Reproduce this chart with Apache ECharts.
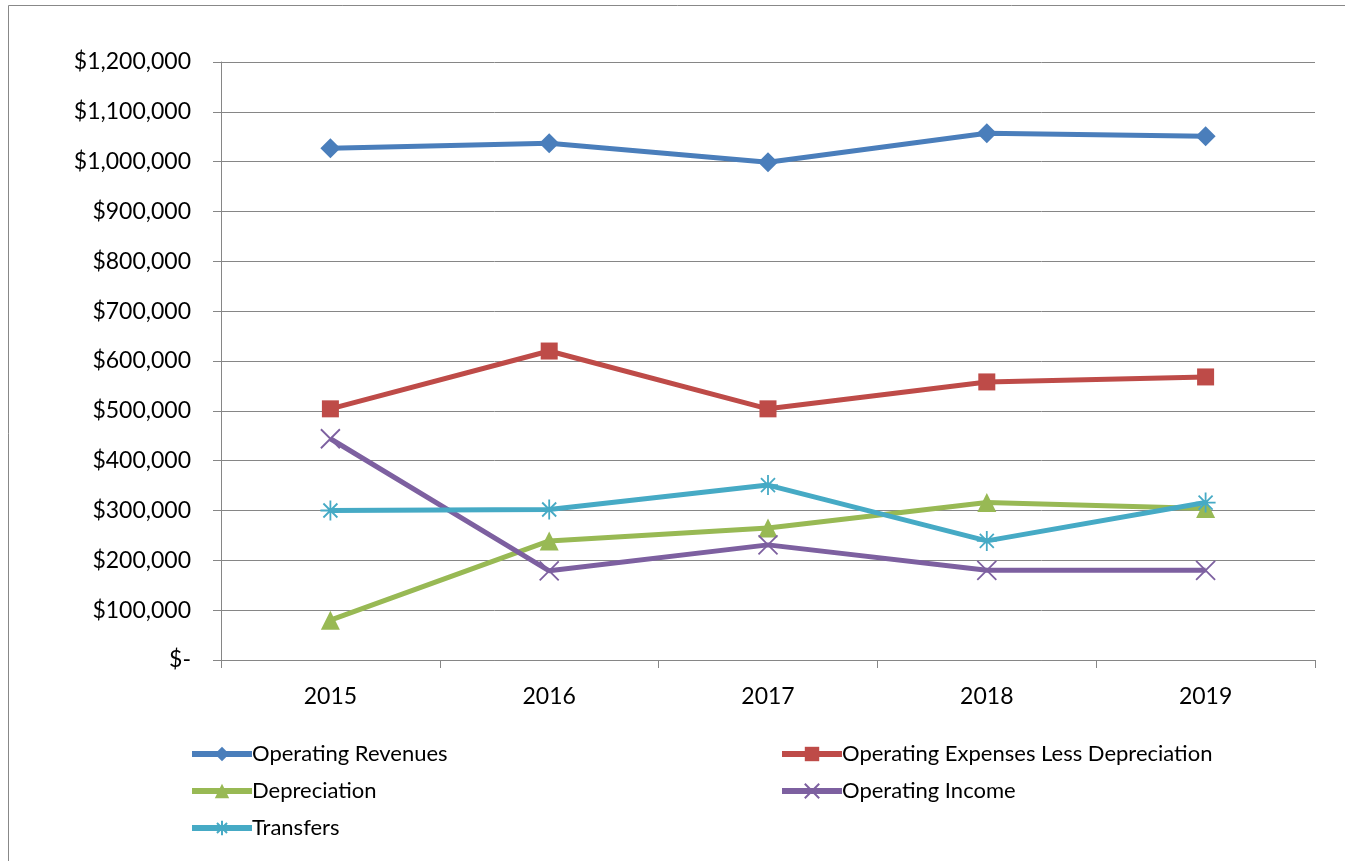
<!DOCTYPE html>
<html>
<head>
<meta charset="utf-8">
<script src="https://cdn.jsdelivr.net/npm/echarts@6/dist/echarts.min.js"></script>
<style>
  html, body { margin: 0; padding: 0; background: #fff; }
  #chart { width: 1345px; height: 861px; }
</style>
</head>
<body>
<div id="chart"></div>
<script>
  // data
  const years = ['2015', '2016', '2017', '2018', '2019'];
  const operatingRevenues = [1027000, 1037000, 999000, 1057000, 1051000];
  const operatingExpenses = [504000, 620000, 504000, 558000, 568000];
  const depreciation = [80000, 239000, 265000, 316000, 304000];
  const operatingIncome = [444000, 179000, 231000, 180000, 180000];
  const transfers = [300000, 302000, 351000, 239000, 316000];

  const font = 'Lato, "Open Sans", sans-serif';
  const xPath = 'path://M0,0L10,10M10,0L0,10';
  const starPath = 'path://M0,5L10,5M5,0L5,10M1.5,1.5L8.5,8.5M8.5,1.5L1.5,8.5';

  const makeSeries = (name, data, color, symbol, size, stroke) => ({
    name: name,
    type: 'line',
    data: data,
    symbol: symbol,
    symbolSize: size,
    lineStyle: { color: color, width: 5 },
    itemStyle: stroke
      ? { color: 'rgba(0,0,0,0)', borderColor: color, borderWidth: 1.8 }
      : { color: color },
    emphasis: { disabled: true },
    animation: false,
  });

  const chart = echarts.init(document.getElementById('chart'));

  const legendCommon = {
    orient: 'vertical',
    itemWidth: 60,
    itemHeight: 18,
    itemGap: 15,
    lineStyle: { width: 6 },
    textStyle: { fontFamily: font, fontSize: 22, color: '#000', padding: [0, 0, 0, -5] },
  };

  chart.setOption({
    animation: false,
    graphic: [{
      type: 'rect',
      shape: { x: 8.5, y: 5.5, width: 1400, height: 900 },
      style: { fill: 'none', stroke: '#888', lineWidth: 1 },
      silent: true,
    }],
    grid: { left: 221, right: 30, top: 62, bottom: 201 },
    legend: [
      Object.assign({}, legendCommon, {
        left: 184, top: 738,
        data: ['Operating Revenues', 'Depreciation', 'Transfers'],
      }),
      Object.assign({}, legendCommon, {
        left: 774, top: 738,
        data: ['Operating Expenses Less Depreciation', 'Operating Income'],
      }),
    ],
    xAxis: {
      type: 'category',
      data: years,
      boundaryGap: true,
      axisLine: { lineStyle: { color: '#868686', width: 1 } },
      axisTick: { show: true, length: 8, lineStyle: { color: '#868686' } },
      axisLabel: { fontFamily: font, fontSize: 23, color: '#000', margin: 25 },
    },
    yAxis: {
      type: 'value',
      min: 0,
      max: 1200000,
      interval: 100000,
      axisLine: { show: true, lineStyle: { color: '#868686', width: 1 } },
      axisTick: { show: true, length: 8, lineStyle: { color: '#868686' } },
      splitLine: { lineStyle: { color: '#868686', width: 1 } },
      axisLabel: {
        fontFamily: font, fontSize: 23, color: '#000', margin: 30,
        formatter: (v) => v === 0 ? '$-' : '$' + v.toLocaleString('en-US'),
      },
    },
    series: [
      makeSeries('Operating Revenues', operatingRevenues, '#4a7ebb', 'diamond', 20, false),
      makeSeries('Operating Expenses Less Depreciation', operatingExpenses, '#be4b48', 'rect', 17, false),
      makeSeries('Depreciation', depreciation, '#98b954', 'triangle', 19, false),
      makeSeries('Operating Income', operatingIncome, '#7d60a0', xPath, 19, true),
      makeSeries('Transfers', transfers, '#46aac5', starPath, 20, true),
    ],
  });
</script>
</body>
</html>
